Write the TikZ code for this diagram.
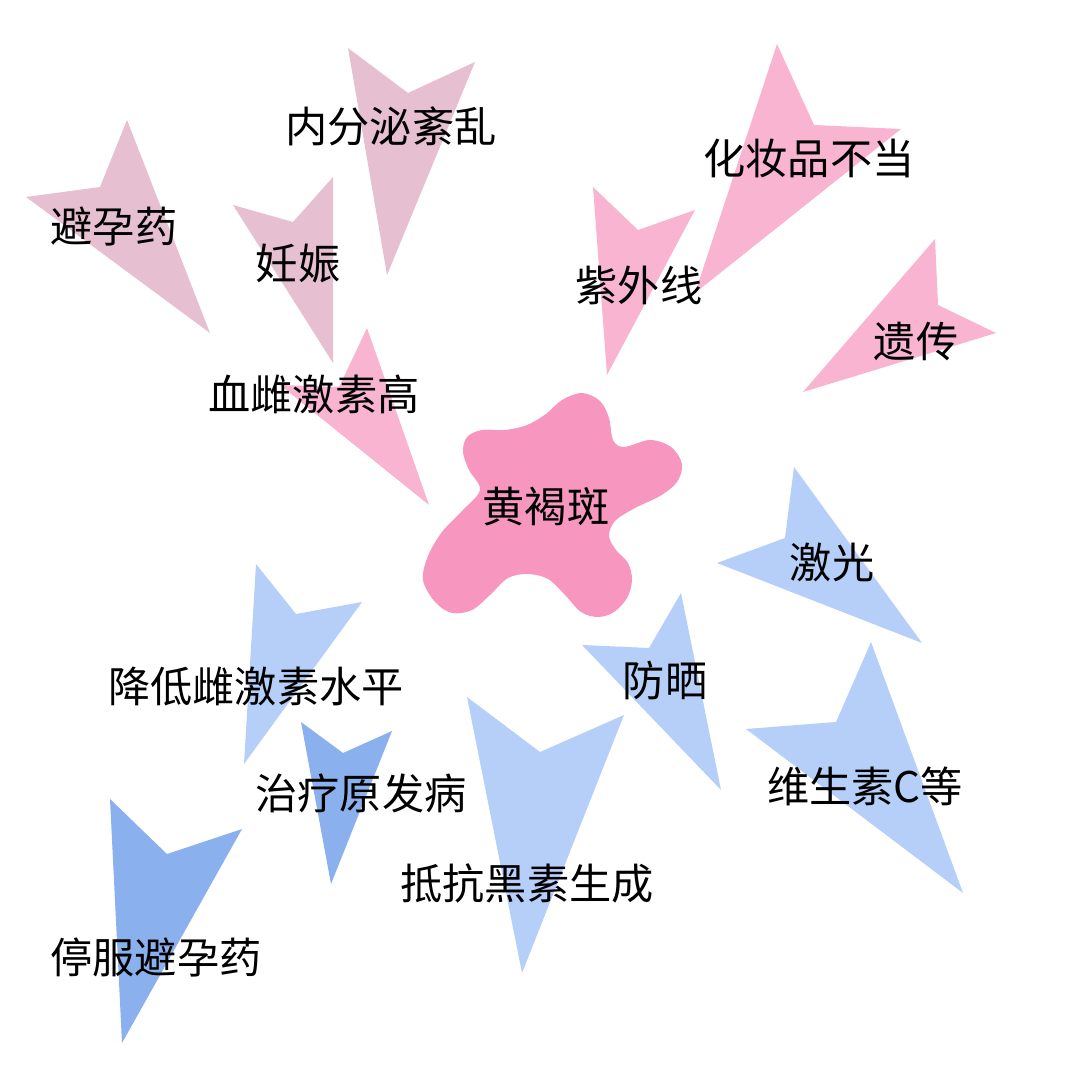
\documentclass[tikz,border=0pt]{standalone}
\usepackage{fontspec}
\newfontfamily\cjk{Noto Sans CJK SC}
\definecolor{mauve}{HTML}{E6C0D0}
\definecolor{rose}{HTML}{F9B4D2}
\definecolor{blot}{HTML}{F797C0}
\definecolor{sky}{HTML}{B5CFF9}
\definecolor{deepsky}{HTML}{8AB0EE}

\begin{document}
\begin{tikzpicture}[x=0.01cm,y=-0.01cm,
  lbl/.style={font=\cjk\fontsize{12}{14}\selectfont,inner sep=0pt},
  mauvedart/.style={fill=mauve},
  rosedart/.style={fill=rose},
  skydart/.style={fill=sky},
  deepdart/.style={fill=deepsky}]
  \useasboundingbox (0,0) rectangle (1080,1080);
  \fill[white] (0,0) rectangle (1080,1080);
  % causes
  \fill[mauvedart] (127,120) -- (100,187) -- (26,197) -- (210,333) -- cycle;
  \fill[mauvedart] (348,48) -- (408,93) -- (475,62) -- (387,275) -- cycle;
  \fill[mauvedart] (233,205) -- (293,222) -- (333,177) -- (333,363) -- cycle;
  \fill[rosedart] (367,328) -- (339,387) -- (280,385) -- (429,505) -- cycle;
  \fill[rosedart] (593,187) -- (638,230) -- (695,210) -- (607,375) -- cycle;
  \fill[rosedart] (777,44) -- (814,125) -- (901,129) -- (695,293) -- cycle;
  \fill[rosedart] (935,239) -- (938,305) -- (996,333) -- (803,392) -- cycle;
  % remedies
  \fill[skydart] (794,467) -- (785,538) -- (717,563) -- (922,643) -- cycle;
  \fill[skydart] (681,593) -- (649,648) -- (582,645) -- (721,790) -- cycle;
  \fill[skydart] (871,642) -- (836,722) -- (746,729) -- (963,893) -- cycle;
  \fill[skydart] (256,564) -- (296,614) -- (362,602) -- (244,764) -- cycle;
  \fill[skydart] (467,697) -- (540,752) -- (624,715) -- (522,973) -- cycle;
  \fill[deepdart] (301,722) -- (343,753) -- (392,731) -- (331,884) -- cycle;
  \fill[deepdart] (110,799) -- (167,854) -- (242,829) -- (122,1043) -- cycle;
  % the spot
  \fill[blot] plot[smooth cycle,tension=0.55] coordinates {
    (582,393) (600,401) (609,418) (613,440) (624,447) (650,440) (671,447)
    (682,464) (677,482) (660,496) (635,508) (615,521) (609,536) (616,550)
    (628,563) (632,580) (627,598) (614,612) (598,617) (581,612) (565,595)
    (548,579) (528,574) (508,578) (490,595) (472,610) (452,613) (435,602)
    (423,580) (428,556) (442,532) (462,511) (480,490) (469,470) (463,452)
    (467,437) (482,430) (505,430) (527,425) (546,414) (562,400)};
  \draw(546,507) node[lbl] (spot) {黄褐斑};
  \draw(391,126) node[lbl] (endo) {内分泌紊乱};
  \draw(114,227) node[lbl] (pill) {避孕药};
  \draw(298,264) node[lbl] (preg) {妊娠};
  \draw(314,394) node[lbl] (estr) {血雌激素高};
  \draw(809,158) node[lbl] (cosm) {化妆品不当};
  \draw(639,285) node[lbl] (uv) {紫外线};
  \draw(916,341) node[lbl] (gene) {遗传};
  \draw(832,562) node[lbl] (laser) {激光};
  \draw(665,681) node[lbl] (sun) {防晒};
  \draw(865,786) node[lbl] (vitc) {维生素C等};
  \draw(256,686) node[lbl] (lower) {降低雌激素水平};
  \draw(361,793) node[lbl] (treat) {治疗原发病};
  \draw(527,883) node[lbl] (anti) {抵抗黑素生成};
  \draw(156,957) node[lbl] (stop) {停服避孕药};
\end{tikzpicture}
\end{document}
